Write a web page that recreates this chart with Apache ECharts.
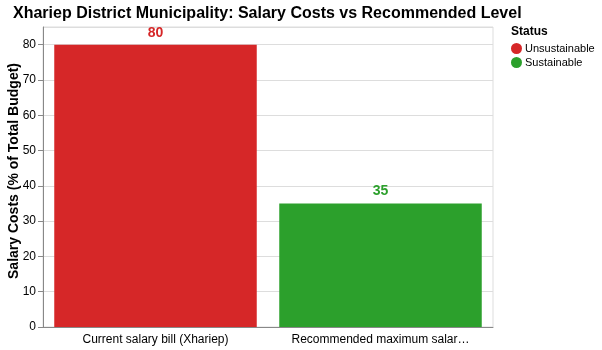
<!DOCTYPE html>
<html>
<head>
<meta charset="utf-8">
<script src="https://cdn.jsdelivr.net/npm/echarts@6/dist/echarts.min.js"></script>
<style>
  html, body { margin: 0; padding: 0; background: #fff; }
  #chart { width: 602px; height: 350px; }
</style>
</head>
<body>
<div id="chart"></div>
<script>
// data
const categories = ["Current salary bill (Xhariep)", "Recommended maximum salary level"];
const statusNames = ["Unsustainable", "Sustainable"];
const unsustainableValues = [80, "-"];
const sustainableValues = ["-", 35];
const yTicks = [0, 10, 20, 30, 40, 50, 60, 70, 80];
const yTitle = "Salary Costs (% of Total Budget)";

const colors = { Unsustainable: "#d62728", Sustainable: "#2ca02c" };
const font = "Liberation Sans, Arial, sans-serif";

function makeSeries(name, values) {
  return {
    name: name,
    type: "bar",
    data: values,
    barGap: "-100%",
    barCategoryGap: "10%",
    itemStyle: { color: colors[name] },
    label: {
      show: true,
      position: "top",
      distance: 5,
      color: colors[name],
      fontFamily: font,
      fontWeight: "bold",
      fontSize: 14,
    },
  };
}

const chart = echarts.init(document.getElementById("chart"), null, { renderer: "canvas" });
chart.setOption({
  animation: false,
  title: {
    text: "Xhariep District Municipality: Salary Costs vs Recommended Level",
    left: 13,
    top: 6,
    padding: 0,
    textStyle: { fontFamily: font, fontSize: 16, fontWeight: "bold", color: "#000" },
  },
  graphic: [
    {
      type: "text",
      left: 511,
      top: 26,
      style: { text: "Status", font: "bold 12px " + font, fill: "#000" },
    },
    // y axis title drawn by hand so it sits where the reference has it
    {
      type: "text",
      x: 14,
      y: 171,
      rotation: Math.PI / 2,
      style: {
        text: yTitle,
        font: "bold 14px " + font,
        fill: "#000",
        align: "center",
        verticalAlign: "middle",
      },
    },
  ],
  legend: {
    data: statusNames,
    orient: "vertical",
    left: 511,
    top: 43,
    icon: "circle",
    itemWidth: 11,
    itemHeight: 11,
    itemGap: 3,
    padding: 0,
    textStyle: { fontFamily: font, fontSize: 11, color: "#000", padding: [0, 0, 0, -2] },
  },
  grid: {
    left: 43,
    top: 27,
    width: 450,
    height: 300,
    show: true,
    borderColor: "#ddd",
    borderWidth: 1,
    containLabel: false,
    outerBoundsMode: "none",
  },
  xAxis: {
    type: "category",
    data: categories,
    axisLine: { lineStyle: { color: "#888" } },
    axisTick: { alignWithLabel: true, length: 5, lineStyle: { color: "#888" } },
    axisLabel: {
      interval: 0,
      color: "#000",
      fontFamily: font,
      fontSize: 12,
      margin: 7,
      width: 180,
      overflow: "truncate",
      ellipsis: "…",
    },
  },
  yAxis: {
    type: "value",
    min: 0,
    max: 85,
    interval: 10,
    axisLine: { show: true, lineStyle: { color: "#888" } },
    axisTick: { show: true, length: 5, lineStyle: { color: "#888" } },
    axisLabel: {
      color: "#000",
      fontFamily: font,
      fontSize: 12,
      margin: 7,
      showMaxLabel: false,
      formatter: (v) => (yTicks.indexOf(v) >= 0 ? String(v) : ""),
    },
    splitLine: { lineStyle: { color: "#ddd" } },
  },
  series: [
    makeSeries("Unsustainable", unsustainableValues),
    makeSeries("Sustainable", sustainableValues),
  ],
});
</script>
</body>
</html>
